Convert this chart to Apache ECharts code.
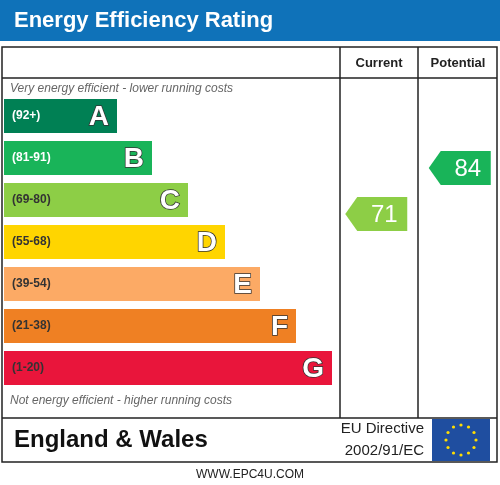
<!DOCTYPE html>
<html>
<head>
<meta charset="utf-8">
<title>EPC</title>
<script src="https://cdn.jsdelivr.net/npm/echarts@6/dist/echarts.min.js"></script>
<style>html,body{margin:0;padding:0;background:#fff}#main{width:500px;height:485px}</style>
</head>
<body>
<div id="main"></div>
<script>
var bands = ['A', 'B', 'C', 'D', 'E', 'F', 'G'];
var ranges = ['(92+)', '(81-91)', '(69-80)', '(55-68)', '(39-54)', '(21-38)', '(1-20)'];
var barLengths = [113, 148, 184, 221, 256, 292, 328];
var bandColors = ['#008054', '#19b459', '#8dce46', '#ffd500', '#fcaa65', '#ef8023', '#e9153b'];
var columns = ['Current', 'Potential'];
var ratings = [71, 84];
var ratingColors = ['#8dce46', '#19b459'];

var chart = echarts.init(document.getElementById('main'));
var F = 'Liberation Sans, Arial, sans-serif';

var stars = [];
for (var i = 0; i < 12; i++) {
    var a = i * Math.PI / 6;
    stars.push({type: 'circle', shape: {cx: 461 + 15 * Math.cos(a), cy: 440 + 15 * Math.sin(a), r: 1.6}, style: {fill: '#ffdd00'}});
}

option = {
    animation: false,
    grid: [
        {left: 4, top: 95, width: 336, height: 294},
        {left: 340, top: 95, width: 157, height: 294}
    ],
    xAxis: [
        {gridIndex: 0, type: 'value', min: 0, max: 336, show: false},
        {gridIndex: 1, type: 'category', data: columns, show: false}
    ],
    yAxis: [
        {gridIndex: 0, type: 'category', data: bands, inverse: true, show: false},
        {gridIndex: 1, type: 'value', min: 21.6, max: 104.6, show: false}
    ],
    graphic: [
        {type: 'rect', shape: {x: 0, y: 0, width: 500, height: 41}, style: {fill: '#0f72b9'}},
        {type: 'text', left: 14, top: 10, style: {text: 'Energy Efficiency Rating', fill: '#fff', font: 'bold 22px ' + F}},
        {type: 'rect', shape: {x: 2, y: 47, width: 495, height: 415}, style: {fill: 'none', stroke: '#222', lineWidth: 1.5}},
        {type: 'line', shape: {x1: 2, y1: 78, x2: 497, y2: 78}, style: {stroke: '#222', lineWidth: 1.5}},
        {type: 'line', shape: {x1: 2, y1: 418, x2: 497, y2: 418}, style: {stroke: '#222', lineWidth: 1.5}},
        {type: 'line', shape: {x1: 340, y1: 47, x2: 340, y2: 418}, style: {stroke: '#222', lineWidth: 1.5}},
        {type: 'line', shape: {x1: 418, y1: 47, x2: 418, y2: 418}, style: {stroke: '#222', lineWidth: 1.5}},
        {type: 'text', x: 379, y: 63, style: {text: 'Current', fill: '#222', font: 'bold 13px ' + F, align: 'center', verticalAlign: 'middle'}},
        {type: 'text', x: 458, y: 63, style: {text: 'Potential', fill: '#222', font: 'bold 13px ' + F, align: 'center', verticalAlign: 'middle'}},
        {type: 'text', x: 10, y: 89, style: {text: 'Very energy efficient - lower running costs', fill: '#666', font: 'italic 12px ' + F, verticalAlign: 'middle'}},
        {type: 'text', x: 10, y: 401, style: {text: 'Not energy efficient - higher running costs', fill: '#666', font: 'italic 12px ' + F, verticalAlign: 'middle'}},
        {type: 'text', x: 14, y: 440, style: {text: 'England & Wales', fill: '#111', font: 'bold 24px ' + F, verticalAlign: 'middle'}},
        {type: 'text', x: 424, y: 429, style: {text: 'EU Directive', fill: '#222', font: '15px ' + F, align: 'right', verticalAlign: 'middle'}},
        {type: 'text', x: 424, y: 451, style: {text: '2002/91/EC', fill: '#222', font: '15px ' + F, align: 'right', verticalAlign: 'middle'}},
        {type: 'rect', shape: {x: 432, y: 419, width: 58, height: 42}, style: {fill: '#1f4ea0'}},
        {type: 'group', children: stars},
        {type: 'text', x: 250, y: 475, style: {text: 'WWW.EPC4U.COM', fill: '#222', font: '12px ' + F, align: 'center', verticalAlign: 'middle'}}
    ],
    series: [
        {
            type: 'custom', xAxisIndex: 0, yAxisIndex: 0,
            data: barLengths.map(function (v, i) { return [v, i]; }),
            renderItem: function (params, api) {
                var i = params.dataIndex;
                var p0 = api.coord([0, i]);
                var p1 = api.coord([api.value(0), i]);
                var h = 34;
                var dark = i < 2;
                return {type: 'group', children: [
                    {type: 'rect', shape: {x: p0[0], y: p0[1] - h / 2, width: p1[0] - p0[0], height: h}, style: {fill: bandColors[i]}},
                    {type: 'text', x: p0[0] + 8, y: p0[1], style: {text: ranges[i], fill: dark ? '#fff' : '#333', font: 'bold 12px ' + F, verticalAlign: 'middle'}},
                    {type: 'text', x: p1[0] - 8, y: p0[1] + 1, style: {text: bands[i], fill: '#fff', stroke: '#333', lineWidth: 1.5, font: 'bold 28px ' + F, align: 'right', verticalAlign: 'middle'}}
                ]};
            }
        },
        {
            type: 'custom', xAxisIndex: 1, yAxisIndex: 1,
            data: ratings.map(function (v, i) { return [i, v]; }),
            renderItem: function (params, api) {
                var i = params.dataIndex;
                var c = api.coord([api.value(0), api.value(1)]);
                var w = 62, h = 34, t = 12, x0 = c[0] - w / 2 + (i === 0 ? -3 : 2);
                return {type: 'group', children: [
                    {type: 'polygon', shape: {points: [[x0, c[1]], [x0 + t, c[1] - h / 2], [x0 + w, c[1] - h / 2], [x0 + w, c[1] + h / 2], [x0 + t, c[1] + h / 2]]}, style: {fill: ratingColors[i]}},
                    {type: 'text', x: x0 + t + (w - t) / 2 + 2, y: c[1] + 1, style: {text: String(api.value(1)), fill: '#fff', font: '24px ' + F, align: 'center', verticalAlign: 'middle'}}
                ]};
            }
        }
    ]
};
chart.setOption(option);
</script>
</body>
</html>
